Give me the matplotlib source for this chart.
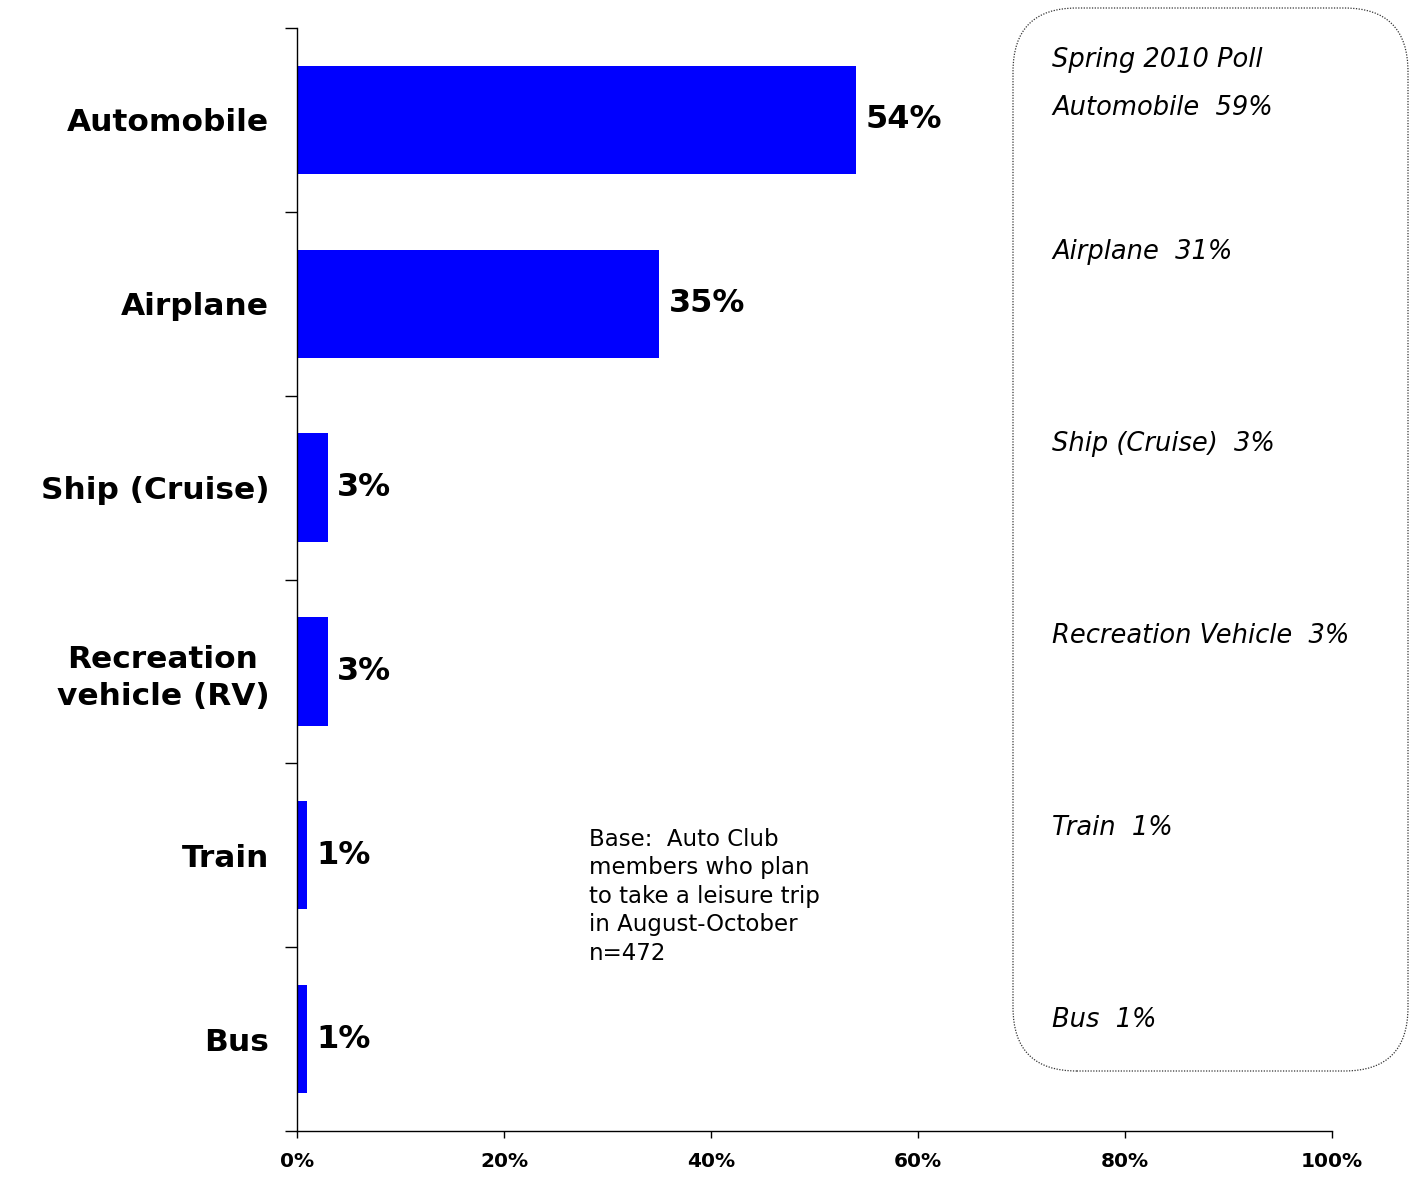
import matplotlib.pyplot as plt
from matplotlib.patches import FancyBboxPatch
from matplotlib.ticker import FixedLocator

categories = ['Automobile', 'Airplane', 'Ship (Cruise)', 'Recreation\nvehicle (RV)', 'Train', 'Bus']
values = [54, 35, 3, 3, 1, 1]

poll_title = 'Spring 2010 Poll'
poll_labels = ['Automobile', 'Airplane', 'Ship (Cruise)', 'Recreation Vehicle', 'Train', 'Bus']
poll_values = [59, 31, 3, 3, 1, 1]

note = 'Base:  Auto Club\nmembers who plan\nto take a leisure trip\nin August-October\nn=472'

W, H = 1416, 1177
fig = plt.figure(figsize=(W / 100, H / 100), dpi=100)
ax = fig.add_axes([297 / W, 1 - 1131 / H, (1332 - 297) / W, (1131 - 28) / H])

pos = list(range(len(categories)))
ax.barh(pos, values, height=0.59, color='#0000ff')
ax.set_ylim(len(categories) - 0.5, -0.5)
ax.set_xlim(0, 100)

for p, v in zip(pos, values):
    ax.text(v + 0.9, p, f'{v}%', va='center', ha='left', fontsize=23, fontweight='bold')

ax.set_yticks(pos)
ax.set_yticklabels(categories, fontsize=22.5, fontweight='bold', ha='right',
                   multialignment='center', linespacing=1.35)
ax.tick_params(axis='y', which='major', length=0, pad=20)
ax.yaxis.set_minor_locator(FixedLocator([i - 0.5 for i in range(len(categories) + 1)]))
ax.tick_params(axis='y', which='minor', length=9, direction='out', width=1)

ax.set_xticks(range(0, 101, 20))
ax.set_xticklabels([f'{t}%' for t in range(0, 101, 20)], fontsize=14.5, fontweight='bold')
ax.tick_params(axis='x', length=5, direction='out', width=1, pad=10)

for s in ['top', 'right']:
    ax.spines[s].set_visible(False)
for s in ['left', 'bottom']:
    ax.spines[s].set_linewidth(1)

fig.text(589 / W, 1 - 828 / H, note, fontsize=16.5, va='top', ha='left', linespacing=1.3)

box = FancyBboxPatch((1013 / W, 1 - 1071 / H), (1408 - 1013) / W, (1071 - 8) / H,
                     boxstyle='round,pad=0,rounding_size=0.045', transform=fig.transFigure,
                     fill=False, linestyle=(0, (1, 1.2)), linewidth=0.9, edgecolor='#333333',
                     mutation_aspect=W / H)
fig.patches.append(box)

fig.text(1052 / W, 1 - 60 / H, poll_title, fontsize=18.5, style='italic', va='center')
poll_y = [108, 252, 444, 636, 828, 1020]
for lab, v, y in zip(poll_labels, poll_values, poll_y):
    fig.text(1052 / W, 1 - y / H, f'{lab}  {v}%', fontsize=18.5, style='italic', va='center')

fig.savefig('out.png', dpi=100)
